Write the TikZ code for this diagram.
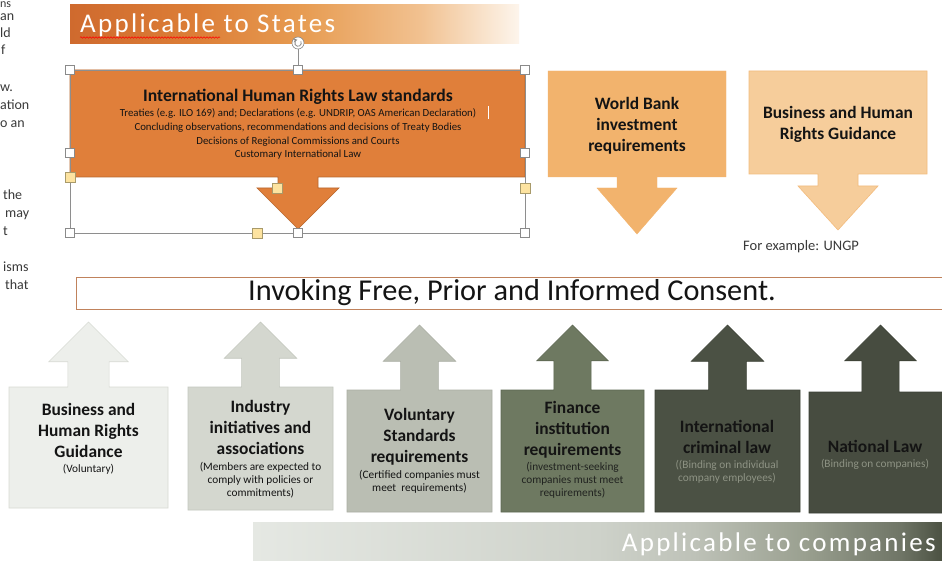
\documentclass[tikz,border=0pt]{standalone}
\usepackage{fontspec}
\setmainfont{Carlito}
\newfontfamily\spacedfont[LetterSpace=8.5]{Carlito}
\usetikzlibrary{decorations.pathmorphing}
\definecolor{stA}{HTML}{CF6A2E}
\definecolor{stB}{HTML}{DC7E37}
\definecolor{stC}{HTML}{E79C52}
\definecolor{stD}{HTML}{F1C190}
\definecolor{stE}{HTML}{FDF5EC}
\definecolor{cpA}{HTML}{E5E8E3}
\definecolor{cpB}{HTML}{CED2CA}
\definecolor{cpC}{HTML}{BEC2B8}
\definecolor{cpD}{HTML}{9AA090}
\definecolor{cpE}{HTML}{6F7566}
\definecolor{cpF}{HTML}{4B5142}
\definecolor{callf}{HTML}{E07F3A}
\definecolor{callb}{HTML}{B8662C}
\definecolor{wbf}{HTML}{F2B36D}
\definecolor{bhf}{HTML}{F6CD9B}
\definecolor{bhb}{HTML}{F3BC7E}
\definecolor{selc}{HTML}{8E8E8E}
\definecolor{handleb}{HTML}{8A8A8A}
\definecolor{yhf}{HTML}{FDE3A0}
\definecolor{yhb}{HTML}{A89A6A}
\definecolor{fragc}{HTML}{3A3A3A}
\definecolor{txtd}{HTML}{141414}
\definecolor{invb}{HTML}{C0825C}
\definecolor{bxAf}{HTML}{EDEFEB}\definecolor{bxAb}{HTML}{D8DBD4}
\definecolor{bxBf}{HTML}{D4D7CF}\definecolor{bxBb}{HTML}{C3C7BE}
\definecolor{bxCf}{HTML}{BABEB3}\definecolor{bxCb}{HTML}{ABAFA4}
\definecolor{bxDf}{HTML}{6E7961}\definecolor{bxDb}{HTML}{5C6651}
\definecolor{bxEf}{HTML}{4B5144}\definecolor{bxEb}{HTML}{3D4237}
\definecolor{bxFf}{HTML}{474C40}\definecolor{bxFb}{HTML}{3B4035}
\definecolor{subdark}{HTML}{8E9384}
\pgfdeclarehorizontalshading{statesgrad}{100bp}{color(0bp)=(stA); color(25bp)=(stA); color(39bp)=(stB); color(51bp)=(stC); color(64bp)=(stD); color(75bp)=(stE); color(100bp)=(stE)}
\pgfdeclarehorizontalshading{compgrad}{100bp}{color(0bp)=(cpA); color(25bp)=(cpA); color(50bp)=(cpB); color(57bp)=(cpC); color(65bp)=(cpD); color(72bp)=(cpE); color(75bp)=(cpF); color(100bp)=(cpF)}
\newcommand\upbox[6]{%
  \pgfmathsetmacro\ubc{(#2+#3)/2}%
  \pgfmathsetmacro\ubh{0.25*(#3-#2)}%
  \pgfmathsetmacro\ubs{0.13*(#3-#2)}%
  \draw[#1] (#2,#4) -- (\ubc-\ubs,#4) -- (\ubc-\ubs,#6+\ubh) -- (\ubc-\ubh,#6+\ubh) -- (\ubc,#6) -- (\ubc+\ubh,#6+\ubh) -- (\ubc+\ubs,#6+\ubh) -- (\ubc+\ubs,#4) -- (#3,#4) -- (#3,#5) -- (#2,#5) -- cycle;}
\begin{document}
\begin{tikzpicture}[x=1pt,y=-1pt,
  frag/.style={anchor=base west,inner sep=0,font=\fontsize{14}{16}\selectfont,text=fragc},
  handle/.style={draw=handleb,fill=white,line width=0.6pt,minimum size=9pt,inner sep=0},
  yhandle/.style={draw=yhb,fill=yhf,line width=0.6pt,minimum size=10pt,inner sep=0},
  ttl/.style={font=\fontsize{17.4}{21}\bfseries\selectfont,align=center,inner sep=0,text=txtd},
  sub/.style={font=\fontsize{11.3}{13}\selectfont,align=center,inner sep=0,text=txtd},
  banner/.style={inner sep=0,text=white,font=\spacedfont\fontsize{27}{31}\selectfont},
]
\useasboundingbox (0,0) rectangle (942,561);
\fill[white] (0,0) rectangle (942,561);
% left clipped fragments
\node[frag] (f0) at (0,8) {\fontsize{12}{14}\selectfont ns};
\node[frag] (f1) at (0,21) {an};
\node[frag] (f2) at (0,38) {ld};
\node[frag] (f3) at (1,55) {f};
\node[frag] (f4) at (0,92) {w.};
\node[frag] (f5) at (0,110) {ation};
\node[frag] (f6) at (0,128) {o an};
\node[frag] (f7) at (3,200) {the};
\node[frag] (f8) at (5,218) {may};
\node[frag] (f9) at (3,236) {t};
\node[frag] (f10) at (3,272) {isms};
\node[frag] (f11) at (5,290) {that};
% top banner
\shade[shading=statesgrad] (70,5) rectangle (519,44);
\node[banner,anchor=base west] (states) at (80,33) {Applicable to States};
\draw[red,line width=0.5pt,decorate,decoration={snake,amplitude=0.8pt,segment length=3pt}] (80,37.5) -- (220,37.5);
% big callout
\draw[fill=callf,draw=callb,line width=0.7pt] (70,70) -- (525,70) -- (525,177) -- (318,177) -- (318,188) -- (339,188) -- (298,229) -- (257,188) -- (278,188) -- (278,177) -- (70,177) -- cycle;
\node[font=\fontsize{17.6}{20}\bfseries\selectfont,text=txtd,inner sep=0] (ihrl) at (298,97) {International Human Rights Law standards};
\node[font=\fontsize{10.8}{13.9}\selectfont,align=center,inner sep=0,text=txtd] (ihrlsub) at (298,134) {Treaties (e.g. ILO 169) and; Declarations (e.g. UNDRIP, OAS American Declaration)\\Concluding observations, recommendations and decisions of Treaty Bodies\\Decisions of Regional Commissions and Courts\\Customary International Law};
\draw[white,line width=1pt] (488,106) -- (488,119);
% selection frame and handles
\draw[selc,line width=0.6pt] (70,70) rectangle (525,233);
\node[circle,draw=handleb,fill=white,line width=0.6pt,minimum size=12pt,inner sep=0] (rot) at (298,43) {};
\draw[handleb,line width=0.8pt,->,>=stealth] (298,43) ++(-30:3.3) arc[start angle=-30,end angle=260,radius=3.3];
\node[handle] (htl) at (70,70) {};
\node[handle] (htc) at (298,70) {};
\node[handle] (htr) at (525,70) {};
\node[handle] (hml) at (70,153) {};
\node[handle] (hmr) at (525,153) {};
\node[handle] (hbl) at (70,233) {};
\node[handle] (hbc) at (298,233) {};
\node[handle] (hbr) at (525,233) {};
\draw[selc,line width=0.6pt] (rot) -- (htc);
\node[yhandle] (y1) at (70,177) {};
\node[yhandle] (y2) at (277,188) {};
\node[yhandle] (y3) at (525,188) {};
\node[yhandle] (y4) at (257,233) {};
% World Bank
\draw[fill=wbf,draw=wbf] (548,71) -- (726,71) -- (726,177) -- (657,177) -- (657,188) -- (677,188) -- (637,234) -- (597,188) -- (617,188) -- (617,177) -- (548,177) -- cycle;
\node[ttl] (wb) at (637,126) {World Bank\\investment\\requirements};
% Business guidance (top)
\draw[fill=bhf,draw=bhb,line width=0.6pt] (749,71) -- (927,71) -- (927,174) -- (858,174) -- (858,186) -- (878,186) -- (838,230) -- (798,186) -- (818,186) -- (818,174) -- (749,174) -- cycle;
\node[ttl] (bh) at (838,124.5) {Business and Human\\Rights Guidance};
\node[anchor=west,inner sep=0,font=\fontsize{14.5}{17}\selectfont,text=fragc] (ungp) at (743,247) {For example: UNGP};
% Invoking FPIC
\draw[draw=invb,line width=0.8pt,fill=white] (76,277) rectangle (950,309);
\node[inner sep=0,font=\fontsize{30.3}{35}\selectfont,text=txtd] (fpic) at (512,293) {Invoking Free, Prior and Informed Consent.};
% bottom boxes
\upbox{fill=bxAf,draw=bxAb,line width=0.6pt}{9}{168}{387}{508}{322}
\upbox{fill=bxBf,draw=bxBb,line width=0.6pt}{188}{333}{387}{510}{322}
\upbox{fill=bxCf,draw=bxCb,line width=0.6pt}{347}{492}{390}{512}{325}
\upbox{fill=bxDf,draw=bxDb,line width=0.6pt}{501}{644}{390}{512}{325}
\upbox{fill=bxEf,draw=bxEb,line width=0.6pt}{655}{800}{390}{512}{325}
\upbox{fill=bxFf,draw=bxFb,line width=0.6pt}{809}{952}{392}{513}{325}
\node[ttl] (b1) at (88.5,430) {Business and\\Human Rights\\Guidance};
\node[sub] (b1s) at (88.5,469) {(Voluntary)};
\node[ttl] (b2) at (260.5,427.5) {Industry\\initiatives and\\associations};
\node[sub] (b2s) at (260.5,480) {(Members are expected to\\comply with policies or\\commitments)};
\node[ttl] (b3) at (419.5,437) {Voluntary\\Standards\\requirements};
\node[sub] (b3s) at (419.5,482) {(Certified companies must\\meet\ \ requirements)};
\node[ttl] (b4) at (572.5,430) {Finance\\institution\\requirements};
\node[sub,text=txtd!85!bxDf] (b4s) at (572.5,480) {(investment-seeking\\companies must meet\\requirements)};
\node[ttl] (b5) at (727,437) {International\\criminal law};
\node[sub,text=subdark] (b5s) at (727,471.5) {((Binding on individual\\company employees)};
\node[ttl] (b6) at (875,446) {National Law};
\node[sub,text=subdark] (b6s) at (875,464) {(Binding on companies)};
% bottom banner
\shade[shading=compgrad] (253,522) rectangle (942,561);
\node[banner,anchor=base east] (comp) at (936,551) {Applicable to companies};
\end{tikzpicture}
\end{document}
